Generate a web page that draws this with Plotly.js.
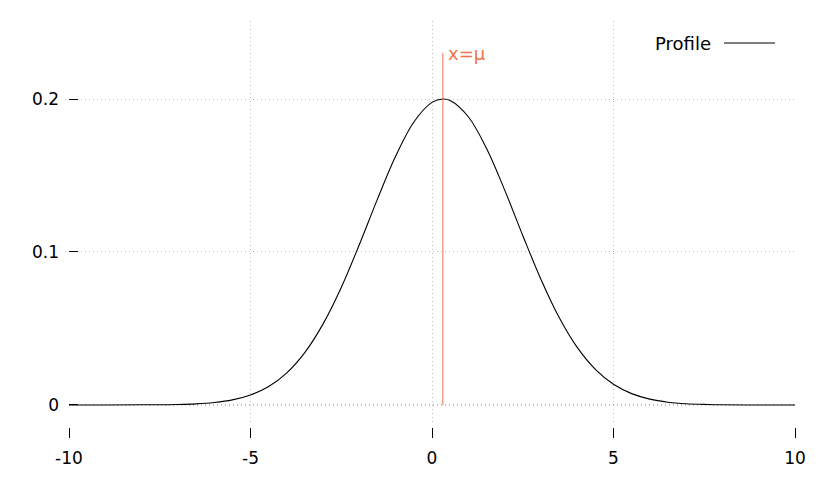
<!DOCTYPE html>
<html>
<head>
<meta charset="utf-8">
<script src="https://cdn.plot.ly/plotly-3.0.1.min.js"></script>
<style>html,body{margin:0;padding:0;background:#fff;}#chart{width:828px;height:481px;}</style>
</head>
<body>
<div id="chart"></div>
<script>
// Profile curve
const profileX = [-10, -9, -8, -7, -6.5, -6, -5.5, -5, -4.5, -4, -3.5, -3, -2.5, -2, -1.5, -1, -0.5, 0, 0.3, 0.5, 1, 1.5, 2, 2.5, 3, 3.5, 4, 4.5, 5, 5.5, 6, 6.5, 7, 7.5, 8, 9, 10];
const profileY = [0, 0, 0.0001, 0.0003, 0.0007, 0.0016, 0.0033, 0.0065, 0.0120, 0.0210, 0.0344, 0.0530, 0.0768, 0.1049, 0.1347, 0.1627, 0.1850, 0.1978, 0.2000, 0.1990, 0.1884, 0.1678, 0.1406, 0.1108, 0.0822, 0.0573, 0.0376, 0.0233, 0.0135, 0.0074, 0.0038, 0.0018, 0.0008, 0.0004, 0.0001, 0, 0];
// Vertical marker at the mean
const muX = [0.3, 0.3];
const muY = [0, 0.23];
const muLabel = 'x=μ';
const legendLabel = 'Profile';
const xTicks = [-10, -5, 0, 5, 10];
const xTickText = ['-10', '-5', '0', '5', '10'];
const yTicks = [0, 0.1, 0.2];
const yTickText = ['0', '0.1', '0.2'];

const FONT = 'DejaVu Sans, sans-serif';
const FS = 17;
const CORAL = '#ef7448';
const GRID = '#bdbdbd';

const traces = [
  {x: profileX, y: profileY, xaxis: 'x', yaxis: 'y', type: 'scatter', mode: 'lines',
   line: {color: '#000', width: 1.1, shape: 'spline', smoothing: 1}, name: legendLabel, showlegend: false, hoverinfo: 'skip'},
  {x: muX, y: muY, xaxis: 'x2', yaxis: 'y', type: 'scatter', mode: 'lines',
   line: {color: CORAL, width: 1}, showlegend: false, hoverinfo: 'skip'}
];

const layout = {
  width: 828, height: 481,
  margin: {l: 69, r: 33, t: 21, b: 54, pad: 0},
  paper_bgcolor: '#fff', plot_bgcolor: '#fff',
  font: {family: FONT, size: FS, color: '#000'},
  showlegend: false,
  xaxis: {
    range: [-10, 10], tickvals: xTicks, showticklabels: false, ticks: '',
    showgrid: true, gridcolor: GRID, griddash: '1px,3px', gridwidth: 1,
    zeroline: false, showline: false, fixedrange: true
  },
  xaxis2: {
    overlaying: 'x', anchor: 'free', position: 0,
    range: [-10, 10], tickvals: xTicks, ticktext: xTickText,
    ticks: 'outside', ticklen: 10, tickwidth: 1, tickcolor: '#000',
    showgrid: false, zeroline: false, showline: false, ticklabelstandoff: 6,
    tickfont: {family: FONT, size: FS, color: '#000'}
  },
  yaxis: {
    domain: [0.00985, 1], range: [-0.0118, 0.251],
    tickvals: yTicks, ticktext: yTickText,
    ticks: 'inside', ticklen: 9, tickwidth: 1, tickcolor: '#000',
    showgrid: true, gridcolor: GRID, griddash: '1px,3px', gridwidth: 1,
    zeroline: false, showline: false, ticklabelstandoff: 9,
    tickfont: {family: FONT, size: FS, color: '#000'}
  },
  shapes: [
    {type: 'line', xref: 'paper', x0: 0, x1: 1, yref: 'y', y0: 0, y1: 0,
     line: {color: '#707070', width: 1, dash: '1px,3px'}, layer: 'below'},
    {type: 'line', xref: 'paper', x0: 0.9022, x1: 0.9725, yref: 'paper', y0: 0.9458, y1: 0.9458,
     line: {color: '#000', width: 1}}
  ],
  annotations: [
    {text: muLabel, xref: 'x', yref: 'y', x: 0.3, y: 0.23, xanchor: 'left', yanchor: 'middle',
     xshift: 3, yshift: 0, showarrow: false, font: {family: FONT, size: 18, color: CORAL}},
    {text: legendLabel, xref: 'paper', yref: 'paper', x: 0.887, y: 0.9458, xanchor: 'right', yanchor: 'middle',
     showarrow: false, font: {family: FONT, size: 18, color: '#000'}}
  ]
};

Plotly.newPlot('chart', traces, layout, {staticPlot: true, displayModeBar: false});
</script>
</body>
</html>
